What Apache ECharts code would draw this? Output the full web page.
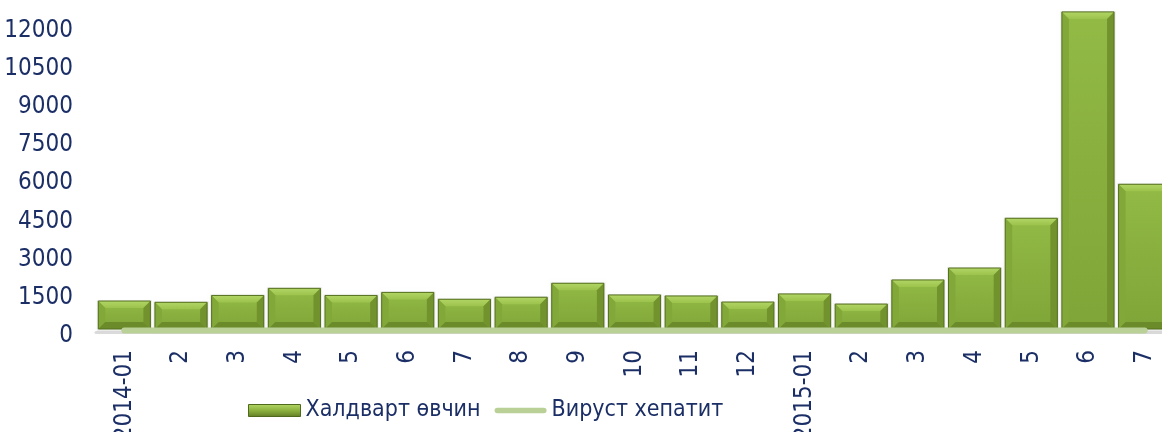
<!DOCTYPE html>
<html>
<head>
<meta charset="utf-8">
<script src="https://cdn.jsdelivr.net/npm/echarts@6/dist/echarts.min.js"></script>
<style>
html,body{margin:0;padding:0;background:#fff;}
#chart{width:1162px;height:432px;}
</style>
</head>
<body>
<div id="chart"></div>
<script>
const categories = ['2014-01','2','3','4','5','6','7','8','9','10','11','12','2015-01','2','3','4','5','6','7'];
const infectious = [1220,1170,1440,1720,1440,1560,1290,1370,1920,1460,1420,1180,1500,1100,2050,2520,4480,12610,5820];
const hepatitis = [60,60,60,60,60,60,60,60,60,60,60,60,60,60,60,60,60,60,60];
const seriesNames = ['Халдварт өвчин','Вируст хепатит'];

const FONT = '"DejaVu Sans Condensed", "DejaVu Sans", sans-serif';
const NAVY = '#1b2f66';
const LINE_GREEN = '#b9d096';

const chart = echarts.init(document.getElementById('chart'), null, {renderer:'canvas'});

function renderBevelBar(params, api){
  const idx = api.value(0), v = api.value(1);
  const top = api.coord([idx, v]);
  const base = api.coord([idx, 0]);
  const bw = api.size([1,0])[0] * 0.92;
  const x0 = top[0] - bw/2, x1 = top[0] + bw/2;
  const y0 = top[1], y1 = base[1] - 3;
  const h = y1 - y0;
  const b = Math.min(7, h/2, bw/2);
  const G = echarts.graphic;
  return {
    type:'group',
    children:[
      {type:'rect', shape:{x:x0-1.5,y:y0-1,width:bw+3,height:h+3},
       style:{fill:'rgba(0,0,0,0.07)', shadowBlur:3, shadowColor:'rgba(0,0,0,0.2)'}},
      {type:'rect', shape:{x:x0,y:y0,width:bw,height:h},
       style:{fill:new G.LinearGradient(0,0,0,1,[{offset:0,color:'#92ba45'},{offset:1,color:'#7fa538'}])}},
      {type:'polygon', shape:{points:[[x0,y0],[x1,y0],[x1-b,y0+b],[x0+b,y0+b]]},
       style:{fill:new G.LinearGradient(0,0,0,1,[{offset:0,color:'#b2d565'},{offset:1,color:'#9cc34c'}])}},
      {type:'polygon', shape:{points:[[x0,y0],[x0+b,y0+b],[x0+b,y1-b],[x0,y1]]},
       style:{fill:'#83a83a'}},
      {type:'polygon', shape:{points:[[x1,y0],[x1,y1],[x1-b,y1-b],[x1-b,y0+b]]},
       style:{fill:'#72922e'}},
      {type:'polygon', shape:{points:[[x0,y1],[x0+b,y1-b],[x1-b,y1-b],[x1,y1]]},
       style:{fill:'#6b8b2b'}},
      {type:'rect', shape:{x:x0,y:y0,width:bw,height:h},
       style:{fill:null, stroke:'#55701f', lineWidth:1}}
    ]
  };
}

const option = {
  animation:false,
  backgroundColor:'#ffffff',
  grid:{left:96, right:-11, top:2, bottom:100, containLabel:false, outerBoundsMode:'none'},
  legend:{
    left:243, top:394,
    itemWidth:52, itemHeight:12, itemGap:14,
    textStyle:{fontFamily:FONT, fontSize:23, color:NAVY},
    data:[
      {name:seriesNames[0], icon:'rect',
       itemStyle:{color:new echarts.graphic.LinearGradient(0,0,0,1,[{offset:0,color:'#b3d866'},{offset:0.5,color:'#8db13f'},{offset:1,color:'#5f7c25'}]), borderColor:'#4f691d', borderWidth:1}},
      {name:seriesNames[1], icon:'path://M3,0 L53,0 A3,3 0 0 1 53,6 L3,6 A3,3 0 0 1 3,0 Z',
       itemStyle:{color:LINE_GREEN, borderWidth:0}}
    ]
  },
  xAxis:{
    type:'category', data:categories, boundaryGap:true,
    axisLine:{show:true, lineStyle:{color:'#dadada', width:3}},
    axisTick:{show:false},
    axisLabel:{rotate:90, margin:18, interval:0, fontFamily:FONT, fontSize:24, color:NAVY},
    splitLine:{show:false}
  },
  yAxis:{
    type:'value', min:0, max:13000, interval:1500,
    axisLine:{show:false}, axisTick:{show:false}, splitLine:{show:false},
    axisLabel:{margin:23, fontFamily:FONT, fontSize:24, color:NAVY, showMaxLabel:false,
      formatter:function(v){return '{s|}\n{n|' + v + '}';},
      rich:{
        s:{lineHeight:7, fontSize:1},
        n:{lineHeight:26, fontFamily:FONT, fontSize:24, color:NAVY}
      }}
  },
  series:[
    {name:seriesNames[0], type:'custom', renderItem:renderBevelBar,
     itemStyle:{color:'#8db13f'},
     encode:{x:0, y:1},
     data:infectious.map((v,i)=>[i,v]), z:2},
    {name:seriesNames[1], type:'line', data:hepatitis, symbol:'none', z:3,
     lineStyle:{color:LINE_GREEN, width:6, cap:'round'}, itemStyle:{color:LINE_GREEN}}
  ]
};
chart.setOption(option);
</script>
</body>
</html>
